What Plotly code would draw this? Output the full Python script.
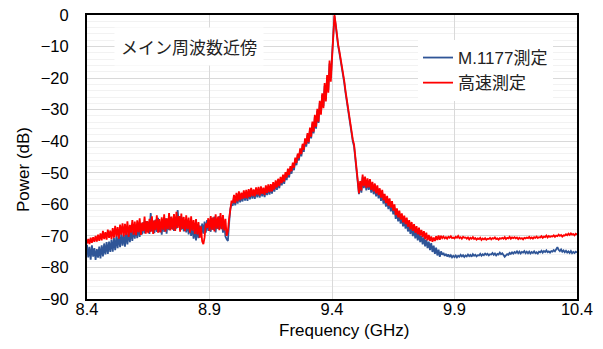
import plotly.graph_objects as go

# Frequency axis: 8.40 .. 10.40 GHz sampled every 5 MHz
FREQ_START = 8.40
FREQ_STEP = 0.005
N_POINTS = 401
freq_ghz = [round(FREQ_START + FREQ_STEP * i, 4) for i in range(N_POINTS)]

# M.1177 measurement (dB)
power_m1177 = [
    -72.8, -76.8, -73.5, -77.5, -73.0, -76.6, -73.9, -77.6, -74.2, -76.9,
    -73.4, -77.1, -73.0, -76.5, -72.4, -75.9, -72.0, -75.7, -71.8, -75.1,
    -71.2, -75.0, -70.7, -74.5, -70.1, -73.9, -69.8, -73.6, -69.3, -73.1,
    -69.6, -73.4, -68.9, -72.7, -68.5, -72.0, -68.0, -71.6, -67.4, -70.9,
    -67.1, -70.7, -66.7, -70.3, -66.0, -69.5, -65.6, -69.2, -65.3, -68.7,
    -65.5, -69.4, -62.8, -68.6, -65.2, -69.1, -64.8, -68.7, -64.3, -68.8,
    -65.6, -69.6, -65.1, -68.7, -64.4, -69.3, -64.7, -68.2, -64.0, -67.8,
    -64.5, -68.4, -63.9, -67.7, -61.8, -66.5, -63.7, -68.0, -64.2, -68.6,
    -65.1, -68.9, -65.5, -69.5, -66.1, -70.0, -66.9, -70.9, -67.6, -71.4,
    -67.5, -70.7, -66.7, -69.9, -66.1, -69.3, -65.5, -69.0, -65.0, -68.4,
    -64.9, -68.7, -64.3, -68.1, -63.9, -68.9, -64.6, -67.8, -63.7, -67.7,
    -65.1, -69.0, -66.0, -70.2, -71.0, -71.6, -66.0, -61.5, -59.9, -60.4,
    -57.8, -60.3, -57.3, -59.8, -56.7, -59.4, -57.1, -59.1, -56.4, -58.8,
    -56.2, -58.9, -55.9, -58.4, -55.6, -58.2, -56.0, -58.3, -55.3, -57.8,
    -55.3, -57.9, -55.0, -57.5, -55.4, -57.7, -54.8, -57.1, -54.5, -56.9,
    -54.3, -56.6, -53.7, -56.0, -53.1, -55.4, -52.6, -54.9, -52.0, -54.0,
    -51.2, -53.5, -50.4, -52.3, -49.3, -51.5, -48.5, -50.3, -47.4, -49.2,
    -45.7, -47.6, -44.4, -46.1, -42.8, -44.8, -41.3, -43.4, -39.6, -41.7,
    -38.0, -40.8, -36.3, -39.1, -34.4, -37.5, -32.2, -36.0, -30.4, -34.2,
    -27.9, -31.1, -25.4, -28.9, -22.4, -26.7, -19.8, -23.8, -15.4, -20.0,
    -13.0, -6.4, -0.3, -3.2, -7.0, -9.8, -11.9, -14.0, -16.6, -19.0,
    -21.5, -24.5, -27.3, -29.8, -33.1, -34.7, -37.8, -40.1, -41.6, -44.9,
    -48.2, -52.9, -56.8, -53.2, -56.3, -51.3, -54.9, -52.0, -55.6, -52.6,
    -55.4, -52.8, -56.3, -53.8, -56.8, -54.3, -57.5, -55.0, -58.1, -55.8,
    -58.9, -56.4, -59.8, -57.7, -60.7, -58.4, -61.5, -59.2, -62.2, -60.0,
    -63.2, -61.0, -64.6, -62.4, -65.4, -63.1, -66.1, -64.0, -67.0, -64.8,
    -67.7, -65.4, -68.6, -66.4, -69.4, -67.0, -70.1, -67.8, -70.8, -68.5,
    -71.4, -69.1, -72.0, -69.9, -72.7, -70.5, -73.3, -71.1, -73.9, -71.8,
    -74.5, -72.3, -75.1, -73.1, -75.7, -73.7, -76.2, -74.4, -76.6, -74.9,
    -76.0, -75.4, -76.3, -75.7, -76.5, -75.9, -76.7, -76.1, -76.8, -76.3,
    -76.7, -76.2, -76.8, -76.3, -76.6, -76.0, -76.5, -76.1, -76.7, -76.2,
    -76.5, -75.9, -76.4, -76.0, -76.6, -75.8, -76.3, -76.0, -76.5, -76.1,
    -76.2, -75.7, -76.3, -75.8, -76.1, -75.6, -76.0, -75.7, -76.2, -75.8,
    -75.9, -75.4, -76.0, -75.6, -76.2, -75.7, -75.9, -75.3, -75.8, -75.5,
    -76.1, -76.6, -76.2, -75.8, -76.0, -75.4, -75.7, -75.2, -75.6, -75.1,
    -75.4, -74.9, -75.5, -75.0, -75.6, -75.1, -75.3, -74.8, -75.5, -75.0,
    -75.5, -75.0, -75.6, -75.1, -75.4, -74.9, -75.5, -75.2, -75.6, -75.0,
    -75.2, -74.7, -75.3, -74.8, -75.1, -74.6, -75.2, -74.9, -75.3, -74.8,
    -75.0, -74.5, -74.9, -74.2, -73.6, -74.4, -74.8, -74.3, -75.0, -74.6,
    -75.2, -74.7, -75.3, -74.9, -75.4, -74.8, -75.5, -75.1, -75.4, -75.0,
    -75.3,
]

# Fast measurement (dB)
power_fast = [
    -72.4, -71.0, -72.6, -70.6, -72.2, -70.4, -71.9, -70.0, -71.8, -69.6,
    -71.6, -69.2, -71.4, -68.4, -71.0, -68.8, -71.2, -68.0, -70.6, -68.3,
    -71.0, -67.5, -70.6, -66.8, -70.2, -67.2, -70.9, -66.4, -69.6, -66.0,
    -70.2, -66.2, -69.7, -65.4, -70.3, -66.5, -69.0, -65.0, -69.6, -65.5,
    -69.8, -65.1, -68.8, -64.4, -69.7, -65.8, -68.4, -63.9, -69.3, -65.3,
    -69.1, -64.6, -68.7, -63.8, -69.4, -65.1, -68.2, -63.5, -69.0, -64.7,
    -68.9, -64.1, -68.0, -63.2, -68.7, -64.4, -67.9, -62.8, -68.3, -63.9,
    -68.0, -63.1, -68.4, -62.4, -67.5, -63.7, -68.7, -62.9, -67.8, -64.0,
    -68.5, -63.5, -67.9, -64.2, -69.0, -63.8, -68.3, -65.0, -69.4, -64.7,
    -69.5, -65.6, -70.6, -67.0, -71.7, -72.6, -70.4, -66.1, -67.5, -64.4,
    -68.4, -63.7, -68.0, -64.1, -68.6, -63.2, -67.7, -63.9, -68.2, -62.8,
    -67.9, -63.4, -68.3, -64.6, -70.0, -68.5, -64.5, -60.5, -58.8, -59.6,
    -57.0, -59.6, -56.4, -59.1, -55.9, -58.7, -56.3, -58.3, -55.6, -58.0,
    -55.4, -58.1, -55.2, -57.6, -54.8, -57.4, -55.3, -57.5, -54.6, -56.9,
    -54.5, -57.2, -54.3, -56.7, -54.7, -57.0, -54.0, -56.4, -53.7, -56.1,
    -53.6, -55.9, -53.0, -55.3, -52.4, -54.6, -51.9, -54.2, -51.3, -53.3,
    -50.6, -52.8, -49.8, -51.5, -48.7, -50.7, -47.9, -49.5, -46.8, -48.4,
    -45.2, -46.9, -43.9, -45.4, -42.3, -44.1, -40.8, -42.7, -39.1, -41.0,
    -37.4, -40.3, -35.7, -38.6, -33.8, -37.0, -31.6, -35.5, -29.7, -33.8,
    -27.2, -31.6, -24.8, -29.5, -21.6, -27.4, -19.0, -24.6, -14.4, -21.1,
    -13.5, -6.0, 0.0, -2.8, -6.5, -9.3, -11.4, -13.6, -16.1, -18.4,
    -20.9, -24.0, -26.8, -29.2, -32.6, -34.1, -37.2, -39.5, -41.0, -44.3,
    -47.6, -52.3, -56.5, -52.6, -55.6, -50.6, -54.2, -51.2, -54.8, -51.8,
    -54.6, -52.0, -55.4, -52.9, -55.9, -53.4, -56.5, -54.0, -57.1, -54.9,
    -57.9, -55.4, -58.7, -56.7, -59.6, -57.3, -60.4, -58.1, -61.0, -59.0,
    -62.0, -60.0, -63.4, -61.3, -64.1, -62.0, -64.8, -62.9, -65.7, -63.6,
    -66.3, -64.2, -67.1, -65.0, -67.9, -65.6, -68.4, -66.3, -69.0, -66.9,
    -69.5, -67.4, -69.9, -68.1, -70.4, -68.5, -71.0, -69.0, -71.4, -69.7,
    -71.6, -70.2, -71.9, -70.5, -71.6, -70.1, -71.3, -69.9, -71.2, -70.0,
    -70.7, -70.2, -70.8, -70.4, -70.9, -70.3, -70.6, -70.1, -70.7, -70.5,
    -70.8, -70.3, -70.6, -70.0, -70.7, -70.4, -70.9, -70.3, -70.6, -70.5,
    -70.9, -70.5, -71.1, -70.6, -70.9, -70.4, -71.0, -70.7, -71.2, -70.8,
    -71.0, -70.6, -71.3, -70.8, -71.1, -70.7, -71.2, -70.9, -71.0, -70.6,
    -71.1, -70.7, -70.9, -70.5, -71.0, -70.8, -71.2, -70.7, -70.9, -70.6,
    -70.9, -70.4, -71.0, -70.6, -70.8, -70.3, -70.9, -70.5, -70.7, -70.4,
    -70.8, -70.5, -71.0, -70.6, -70.9, -70.7, -71.1, -70.6, -70.8, -70.5,
    -70.7, -70.3, -70.8, -70.5, -70.9, -70.4, -70.6, -70.2, -70.7, -70.4,
    -70.5, -70.1, -70.6, -70.2, -70.4, -69.9, -70.5, -70.0, -70.3, -70.1,
    -70.2, -69.8, -70.3, -69.9, -70.1, -69.6, -70.0, -69.7, -70.2, -69.8,
    -69.9, -69.5, -69.8, -69.3, -69.7, -69.2, -69.6, -69.4, -69.8, -69.3,
    -69.6,
]

x_ticks = [8.4, 8.9, 9.4, 9.9, 10.4]
x_tick_labels = ["8.4", "8.9", "9.4", "9.9", "10.4"]
series_names = ["M.1177測定", "高速測定"]
annotation_text = "メイン周波数近傍"
x_title = "Frequency (GHz)"
y_title = "Power (dB)"

FONT = "Arial, 'Liberation Sans', 'Noto Sans CJK JP', sans-serif"
W, H = 603, 349
ML, MR, MT, MB = 87, 26, 15, 50
PW, PH = W - ML - MR, H - MT - MB


def px_x(p):
    return (p - ML) / PW


def px_y(p):
    return 1 - (p - MT) / PH


fig = go.Figure()
fig.add_trace(go.Scatter(x=freq_ghz, y=power_m1177, mode="lines", name=series_names[0],
                         line=dict(color="#2F5597", width=1.8)))
fig.add_trace(go.Scatter(x=freq_ghz, y=power_fast, mode="lines", name=series_names[1],
                         line=dict(color="#FF0000", width=1.8)))

fig.update_layout(
    width=W, height=H,
    margin=dict(l=ML, r=MR, t=MT, b=MB, autoexpand=False),
    paper_bgcolor="white", plot_bgcolor="white",
    font=dict(family=FONT, size=16, color="#000000"),
    showlegend=True,
    legend=dict(x=px_x(418), y=px_y(40), xanchor="left", yanchor="top",
                bgcolor="white", borderwidth=0,
                font=dict(family=FONT, size=17, color="#222222"),
                tracegroupgap=0),
    annotations=[
        dict(text=annotation_text, xref="paper", yref="paper",
             x=px_x(189), y=px_y(47), xanchor="center", yanchor="middle",
             showarrow=False,
             font=dict(family="'Noto Sans CJK JP', sans-serif", size=17, color="#222222"),
             bgcolor="white", borderpad=6),
        dict(text=x_title, xref="paper", yref="paper",
             x=px_x(344), y=px_y(330), xanchor="center", yanchor="middle",
             showarrow=False, font=dict(family=FONT, size=17, color="#000000")),
        dict(text=y_title, xref="paper", yref="paper", textangle=-90,
             x=px_x(23), y=px_y(170), xanchor="center", yanchor="middle",
             showarrow=False, font=dict(family=FONT, size=17, color="#000000")),
    ],
)

fig.update_xaxes(
    range=[8.4, 10.4], tickvals=x_ticks, ticktext=x_tick_labels,
    showgrid=True, gridcolor="#D9D9D9", gridwidth=1,
    showline=True, linecolor="black", linewidth=2, mirror=True,
    ticks="", ticklabelstandoff=-6, zeroline=False, automargin=False,
    tickfont=dict(size=16.5),
)
fig.update_yaxes(
    range=[-90, 0], dtick=10, tick0=0,
    showgrid=True, gridcolor="#D9D9D9", gridwidth=1,
    minor=dict(dtick=2, showgrid=True, gridcolor="#F2F2F2", gridwidth=1),
    showline=True, linecolor="black", linewidth=2, mirror=True,
    ticks="", ticklabelstandoff=13, zeroline=False, automargin=False,
    tickfont=dict(size=16.5),
)

fig.write_html("out.html", config={"displayModeBar": False},
               post_script="document.body.style.margin='0';document.body.style.padding='0';")
